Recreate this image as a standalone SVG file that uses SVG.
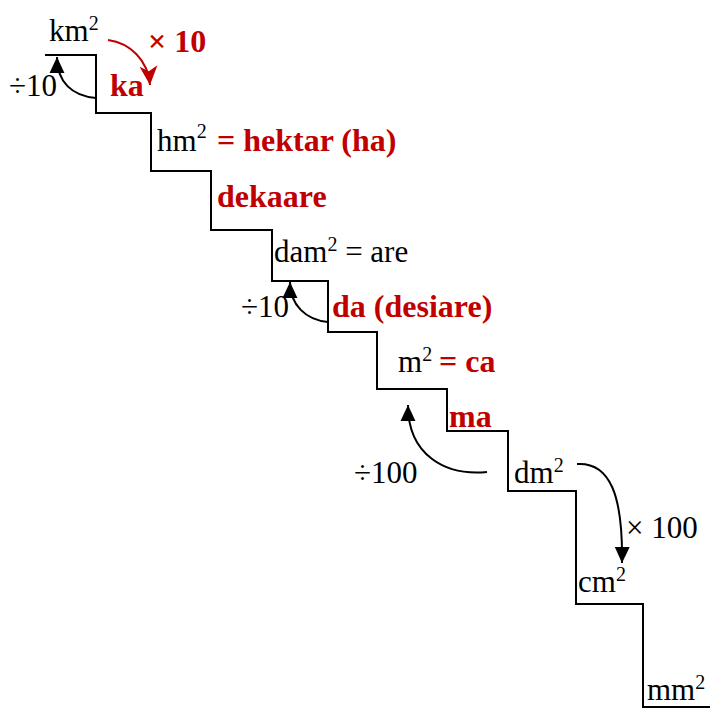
<svg xmlns="http://www.w3.org/2000/svg" width="710" height="710" viewBox="0 0 710 710">
<defs>
<style>
.t{font-family:'Liberation Serif','Times New Roman',Times,'DejaVu Serif','Noto Serif',serif;font-size:31px;fill:#000}
.r{font-family:'Liberation Serif','Times New Roman',Times,'DejaVu Serif','Noto Serif',serif;font-size:32px;font-weight:bold;fill:#C00000}
.sup{font-size:20px}
.stair{fill:none;stroke:#000;stroke-width:2}
.arr{fill:none;stroke:#000;stroke-width:2}
.arr-red{fill:none;stroke:#C00000;stroke-width:2}
</style>
<marker id="ah" markerUnits="userSpaceOnUse" markerWidth="16" markerHeight="16" viewBox="0 0 15 14" refX="15" refY="7" orient="auto">
<path d="M0,0 L15,7 L0,14 Z" fill="#000"/>
</marker>
<marker id="ahr" markerUnits="userSpaceOnUse" markerWidth="19" markerHeight="19" viewBox="0 0 18 17" refX="18" refY="8.5" orient="auto">
<path d="M0,0 L18,8.5 L0,17 L5,8.5 Z" fill="#C00000"/>
</marker>
</defs>
<rect width="710" height="710" fill="#fff"/>
<path id="staircase" class="stair" d="M45,55 H96 V113 H151 V171 H211 V230 H272 V281 H328 V332 H377 V389 H447 V431 H508 V491 H576 V604 H643 V707 H710"/>
<g id="connectors">
<path id="c-km-div10" class="arr" d="M96,98 C72,96 57,82 57,57" marker-end="url(#ah)"/>
<path id="c-km-mul10" class="arr-red" d="M108,40 C130,43 148,60 150,85" marker-end="url(#ahr)"/>
<path id="c-dam-div10" class="arr" d="M328,322 C306,320 290,305 290,282" marker-end="url(#ah)"/>
<path id="c-m-div100" class="arr" d="M487,472 C445,476 408,455 408,405" marker-end="url(#ah)"/>
<path id="c-dm-mul100" class="arr" d="M577,464 C610,462 623,495 622,563" marker-end="url(#ah)"/>
</g>
<g id="km2"><text class="t" x="49" y="41">km<tspan class="sup" dy="-11">2</tspan></text></g>
<g id="mul10"><text class="r" x="148" y="52">× 10</text></g>
<g id="div10-a"><text class="t" x="9" y="96">÷10</text></g>
<g id="ka"><text class="r" x="110" y="96">ka</text></g>
<g id="hm2"><text class="t" x="157" y="151">hm<tspan class="sup" dy="-13">2</tspan></text><text class="r" x="217" y="151">= hektar (ha)</text></g>
<g id="dekaare"><text class="r" x="217" y="207">dekaare</text></g>
<g id="dam2"><text class="t" x="274" y="262">dam<tspan class="sup" dy="-11">2</tspan><tspan dy="11"> = are</tspan></text></g>
<g id="div10-b"><text class="t" x="241" y="317">÷10</text></g>
<g id="da"><text class="r" x="332" y="317">da (desiare)</text></g>
<g id="m2"><text class="t" x="398" y="372">m<tspan class="sup" dy="-11">2</tspan></text><text class="r" x="439" y="372">= ca</text></g>
<g id="ma"><text class="r" x="449" y="427">ma</text></g>
<g id="div100"><text class="t" x="354" y="483">÷100</text></g>
<g id="dm2"><text class="t" x="514" y="483">dm<tspan class="sup" dy="-11">2</tspan></text></g>
<g id="mul100"><text class="t" x="626" y="538">× 100</text></g>
<g id="cm2"><text class="t" x="578" y="592">cm<tspan class="sup" dy="-11">2</tspan></text></g>
<g id="mm2"><text class="t" x="647" y="700">mm<tspan class="sup" dy="-11">2</tspan></text></g>
</svg>
